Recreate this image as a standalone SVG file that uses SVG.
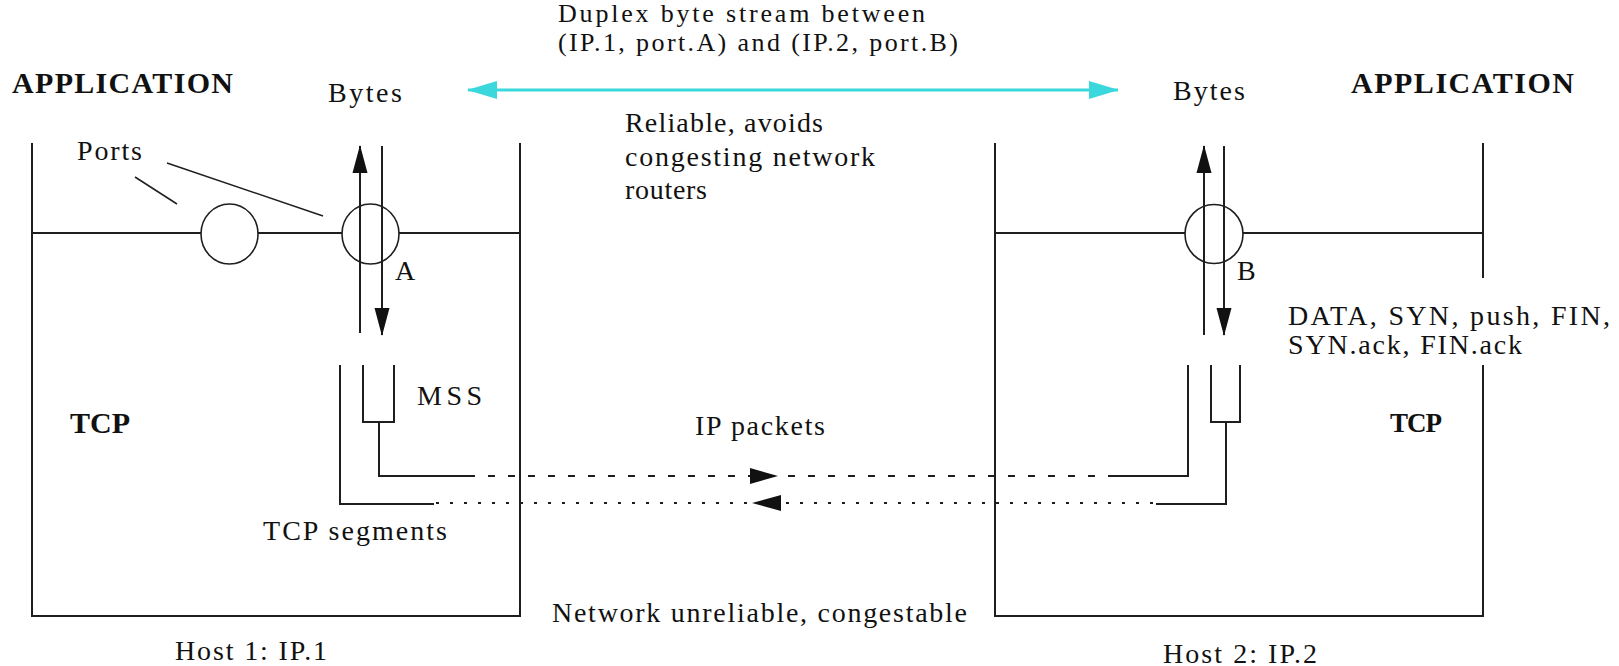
<svg xmlns="http://www.w3.org/2000/svg" width="1619" height="666" viewBox="0 0 1619 666">
  <style>
    .ln { fill: none; stroke: #1e1e1e; stroke-width: 2; }
    .thin { fill: none; stroke: #1e1e1e; stroke-width: 1.5; }
    .port { fill: #ffffff; stroke: #1e1e1e; stroke-width: 1.6; }
    .t { font-family: "Liberation Serif", "Times New Roman", serif; font-size: 28px; fill: #111; }
    .b { font-family: "Liberation Serif", "Times New Roman", serif; font-size: 30px; font-weight: bold; fill: #111; }
    .dash { fill: none; stroke: #1e1e1e; stroke-width: 2; stroke-dasharray: 7 13; }
    .dot { fill: none; stroke: #1e1e1e; stroke-width: 2; stroke-dasharray: 3 11; }
    .head { fill: #111; }
  </style>
  <defs>
    <marker id="byteHead" markerUnits="userSpaceOnUse" viewBox="0 0 28 16" markerWidth="28" markerHeight="16" refX="27" refY="8" orient="auto">
      <path d="M0,0.5 L28,8 L0,15.5 Z" fill="#111"/>
    </marker>
    <marker id="cyanHead" markerUnits="userSpaceOnUse" viewBox="0 0 30 20" markerWidth="30" markerHeight="20" refX="29" refY="10" orient="auto-start-reverse">
      <path d="M0,1 L30,10 L0,19 Z" fill="#3ad8dc"/>
    </marker>
  </defs>
  <rect width="1619" height="666" fill="#ffffff"/>

  <!-- Host 1 -->
  <g id="host1">
    <path class="ln" d="M32,143 V616 H520 V143"/>
    <path class="ln" d="M32,233 H520"/>
    <ellipse class="port" cx="229.5" cy="234" rx="28.5" ry="30"/>
    <ellipse class="port" cx="370.5" cy="234" rx="28.5" ry="30"/>
    <line class="ln" x1="360" y1="333" x2="360" y2="146" marker-end="url(#byteHead)"/>
    <line class="ln" x1="382" y1="146" x2="382" y2="335" marker-end="url(#byteHead)"/>
    <!-- MSS buffer and segment paths -->
    <path class="ln" d="M363,365 V422 H394 V365"/>
    <path class="ln" d="M379,422 V476 H474"/>
    <path class="ln" d="M340,365 V504 H434"/>
    <text class="b" x="12" y="93" textLength="221">APPLICATION</text>
    <text class="t" x="328" y="102" textLength="74">Bytes</text>
    <text class="t" x="77" y="160" textLength="65">Ports</text>
    <text class="t" x="395" y="280" textLength="22">A</text>
    <text class="t" x="417" y="405" textLength="65">MSS</text>
    <text class="b" x="70" y="433" textLength="60">TCP</text>
    <text class="t" x="263" y="540" textLength="184">TCP segments</text>
    <text class="t" x="175" y="660" textLength="152">Host 1: IP.1</text>
  </g>

  <!-- Host 2 -->
  <g id="host2">
    <path class="ln" d="M995,143 V616 H1483 V365"/>
    <path class="ln" d="M1483,278 V143"/>
    <path class="ln" d="M995,233 H1483"/>
    <ellipse class="port" cx="1214" cy="234" rx="29" ry="29.5"/>
    <line class="ln" x1="1204" y1="335" x2="1204" y2="146" marker-end="url(#byteHead)"/>
    <line class="ln" x1="1224" y1="146" x2="1224" y2="335" marker-end="url(#byteHead)"/>
    <path class="ln" d="M1211,365 V422 H1240 V365"/>
    <path class="ln" d="M1226,422 V504 H1156"/>
    <path class="ln" d="M1188,365 V476 H1109"/>
    <text class="b" x="1351" y="93" textLength="223">APPLICATION</text>
    <text class="t" x="1173" y="100" textLength="72">Bytes</text>
    <text class="t" x="1237" y="280" textLength="21">B</text>
    <text class="t" x="1288" y="325" textLength="322">DATA, SYN, push, FIN,</text>
    <text class="t" x="1288" y="354" textLength="234">SYN.ack, FIN.ack</text>
    <text class="b" x="1390" y="432" textLength="52" style="font-size:27px">TCP</text>
    <text class="t" x="1163" y="663" textLength="154">Host 2: IP.2</text>
  </g>

  <!-- Network and connection labels -->
  <g id="labels">
    <text class="t" x="558" y="22" textLength="367" style="font-size:26px">Duplex byte stream between</text>
    <text class="t" x="558" y="51" textLength="400" style="font-size:26px">(IP.1, port.A) and (IP.2, port.B)</text>
    <text class="t" x="625" y="132" textLength="198">Reliable, avoids</text>
    <text class="t" x="625" y="166" textLength="250">congesting network</text>
    <text class="t" x="625" y="199" textLength="82">routers</text>
    <text class="t" x="695" y="435" textLength="130">IP packets</text>
    <text class="t" x="552" y="622" textLength="415">Network unreliable, congestable</text>
  </g>

  <!-- Connectors -->
  <g id="connectors">
    <line x1="468" y1="90" x2="1118" y2="90" stroke="#3ad8dc" stroke-width="3" marker-start="url(#cyanHead)" marker-end="url(#cyanHead)"/>
    <line class="thin" x1="135" y1="177" x2="177" y2="204"/>
    <line class="thin" x1="167" y1="163" x2="323" y2="216"/>
    <line class="dash" x1="474" y1="476" x2="1109" y2="476" stroke-dashoffset="6"/>
    <polygon class="head" points="750,468 778,476 750,484"/>
    <line class="dot" x1="434" y1="503" x2="1156" y2="503" stroke-dashoffset="-16"/>
    <polygon class="head" points="781,495 752,503 781,511"/>
  </g>
</svg>
